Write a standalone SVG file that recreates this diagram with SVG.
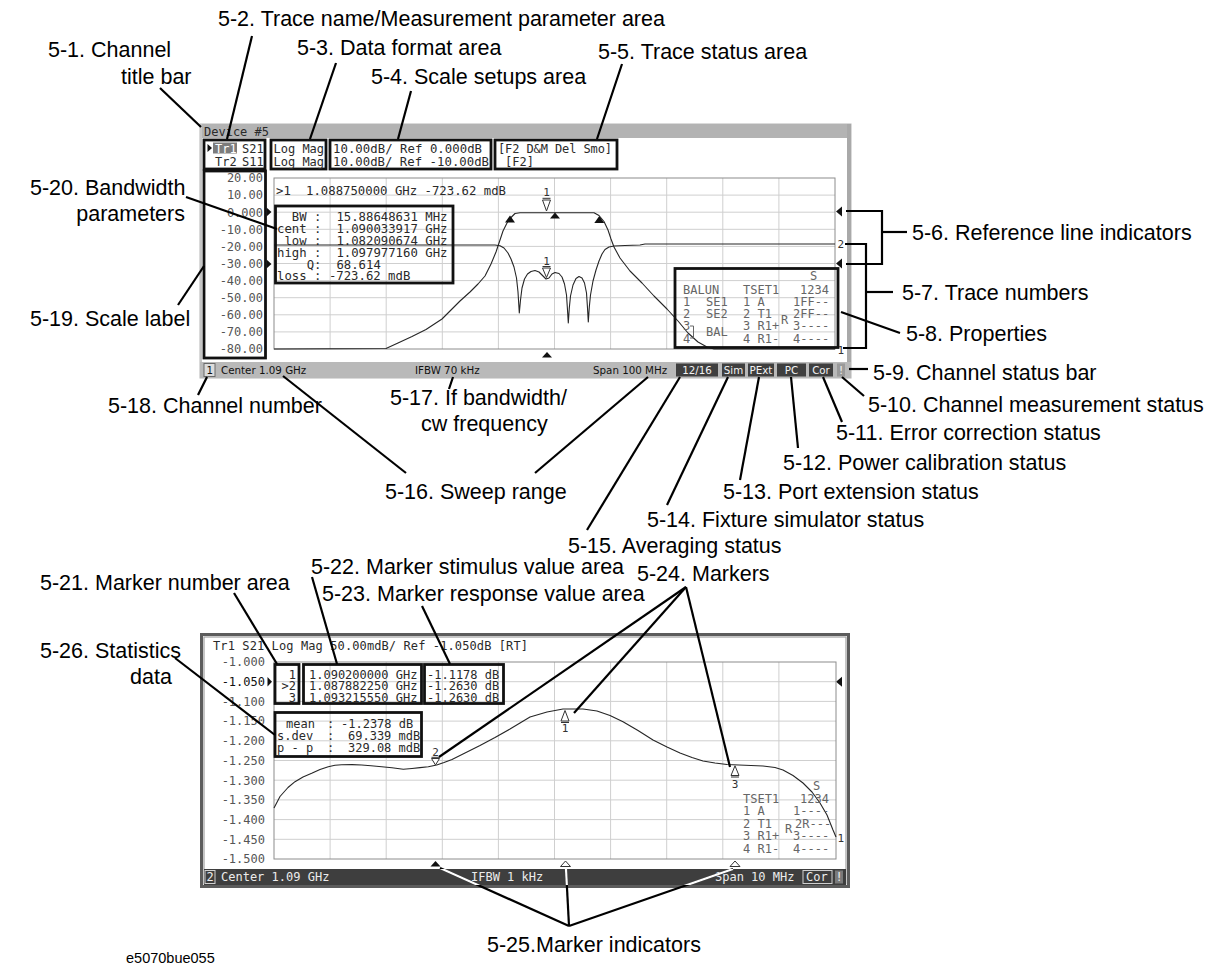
<svg xmlns="http://www.w3.org/2000/svg" width="1217" height="966" viewBox="0 0 1217 966">
<defs>
<style>
.lbl{font-family:"Liberation Sans",Arial,sans-serif;font-size:21.5px;fill:#000}
.m{font-family:"DejaVu Sans Mono","Liberation Mono",monospace;font-size:12.3px;fill:#2a2a2a}
.s{font-family:"DejaVu Sans Mono","Liberation Mono",monospace;font-size:12px;fill:#2a2a2a}
.k{font-family:"DejaVu Sans Mono","Liberation Mono",monospace;font-size:11px;fill:#333}
.gy{fill:#555}
.pr{fill:#666}
.lt{fill:#ececec}
.sb{font-family:"DejaVu Sans",Verdana,sans-serif;font-size:10.3px;fill:#111}
.sw{font-family:"DejaVu Sans",Verdana,sans-serif;font-size:10.3px;fill:#f2f2f2}
.bx{fill:none;stroke:#111;stroke-width:2.8}
.grid{fill:none;stroke:#cfcfcf;stroke-width:1}
.gb{fill:none;stroke:#8c8c8c;stroke-width:1}
.tr{fill:none;stroke:#262626;stroke-width:1.1;stroke-linejoin:round}
.ld{fill:none;stroke:#000;stroke-width:2.2}
.ldw{fill:none;stroke:#fff;stroke-width:2.2}
.mk{fill:#fff;stroke:#333;stroke-width:1}
.fm{fill:#111}
</style>
<clipPath id="sbclip"><rect x="204" y="869" width="642" height="16"/></clipPath>
</defs>

<!-- ===== Upper screen ===== -->
<g id="upper-screen">
<rect x="200" y="124" width="651" height="254" fill="#fff" stroke="#b5b5b5" stroke-width="1"/>
<g id="channel-title-bar">
<rect x="200" y="124" width="651" height="14" fill="#b3b3b3"/>
<text class="s" x="204" y="136">Device #5</text>
</g>
<rect x="847" y="124" width="4" height="254" fill="#a9a9a9"/>
<rect x="200" y="124" width="2" height="254" fill="#c6c6c6"/>

<g id="trace-name-area">
<rect class="bx" x="204" y="140" width="61" height="29"/>
<polygon class="fm" points="207.5,144 212,148 207.5,152"/>
<rect x="213" y="142.5" width="24" height="11" fill="#7c7c7c"/>
<text class="s" x="215" y="152.5" style="fill:#fff">Tr1</text>
<text class="s" x="242" y="152.5">S21</text>
<text class="s" x="215" y="165.5">Tr2</text>
<text class="s" x="242" y="165.5">S11</text>
</g>
<g id="data-format-area">
<rect class="bx" x="271" y="140" width="55" height="29"/>
<text class="s" x="273.5" y="152.5">Log Mag</text>
<text class="s" x="273.5" y="165.5">Log Mag</text>
</g>
<g id="scale-setups-area">
<rect class="bx" x="330" y="140" width="161" height="29"/>
<text class="m" x="333" y="152.5" textLength="149">10.00dB/ Ref 0.000dB</text>
<text class="m" x="333" y="165.5" textLength="156">10.00dB/ Ref -10.00dB</text>
</g>
<g id="trace-status-area">
<rect class="bx" x="495" y="140" width="122" height="29"/>
<text class="s" x="498" y="152.5" textLength="114">[F2 D&amp;M Del Smo]</text>
<text class="s" x="505" y="165.5">[F2]</text>
</g>

<g id="scale-label">
<rect class="bx" x="204" y="171" width="61.5" height="187"/>
<g class="s gy" text-anchor="end">
<text x="263" y="182.3">20.00</text>
<text x="263" y="199.4">10.00</text>
<text x="263" y="216.5">0.000</text>
<text x="263" y="233.6">-10.00</text>
<text x="263" y="250.7">-20.00</text>
<text x="263" y="267.8">-30.00</text>
<text x="263" y="284.9">-40.00</text>
<text x="263" y="302">-50.00</text>
<text x="263" y="319.1">-60.00</text>
<text x="263" y="336.2">-70.00</text>
<text x="263" y="353.3">-80.00</text>
</g>
</g>

<g id="upper-graph">
<path class="grid" d="M330.1 178V349M386.2 178V349M442.3 178V349M498.4 178V349M554.5 178V349M610.6 178V349M666.7 178V349M722.8 178V349M778.9 178V349M274 195.1H835M274 212.2H835M274 229.3H835M274 246.4H835M274 263.5H835M274 280.6H835M274 297.7H835M274 314.8H835M274 331.9H835"/>
<rect class="gb" x="274" y="178" width="561" height="171"/>
<text class="m" x="276" y="194.5">&gt;1</text>
<text class="m" x="306" y="194.5" textLength="200">1.088750000 GHz -723.62 mdB</text>
<path class="tr" d="M274,245 L495,245 L500,245.8 L504,248 L508,253 L511,259 L514,267 L516.5,278 L518,292 L519.3,313 L520.5,300 L522,288 L524.5,279 L527.5,274 L531,271.5 L535,270.5 L539,272 L543,276 L546,279 L549,278 L552,274 L555,272.5 L559,273.5 L562,277 L564.5,284 L566.5,295 L567.5,310 L568.3,323 L569.3,308 L570.5,296 L573,285 L576,278.5 L579,276.5 L582,278 L584.5,283 L586.5,293 L587.5,308 L588.3,322 L589.3,307 L590.5,295 L593,281 L596,270 L599,261 L602,254 L605,249.5 L609,247 L614,246 L625,245.5 L640,245 L645,244 L835,244"/>
<path class="tr" d="M274,349 L386,348.5 L398,343 L412,336.5 L426,329.5 L442,319 L460,301 L470,292 L478,284 L485,276 L491,264 L496,252 L500,240 L503,231 L507,223 L511,217.5 L515,213.5 L520,212.7 L594,212.7 L599,215.5 L604,221.5 L608,230 L611,239 L614,247 L620,258 L630,271 L642,283 L654,296 L667,309 L678,321 L688,333 L698,342 L707,347 L714,349 L835,349"/>
<polygon class="fm" points="510,215.5 505,222.5 515,222.5"/>
<polygon class="fm" points="555,212.5 550,218.5 560,218.5"/>
<polygon class="fm" points="599.3,216 594.3,223 604.3,223"/>
<text class="k" x="546.5" y="196" text-anchor="middle">1</text>
<line x1="542.5" y1="198.3" x2="550.5" y2="198.3" stroke="#333" stroke-width="1"/>
<polygon class="mk" points="542.5,200 550.5,200 546.5,211"/>
<text class="k" x="546.5" y="264.5" text-anchor="middle">1</text>
<line x1="542.5" y1="266.5" x2="550.5" y2="266.5" stroke="#333" stroke-width="1"/>
<polygon class="mk" points="542.5,268 550.5,268 546.5,277.5"/>
<polygon class="fm" points="547,352 542,357.5 552,357.5"/>
</g>

<g id="bandwidth-parameters">
<rect class="bx" x="275.5" y="206" width="177.5" height="77"/>
<g class="m">
<text x="291.8" y="221">BW</text><text x="314.1" y="221">:</text><text x="336.4" y="221">15.88648631 MHz</text>
<text x="277" y="233">cent</text><text x="314.1" y="233">:</text><text x="336.4" y="233">1.090033917 GHz</text>
<text x="284.4" y="244.8">low</text><text x="314.1" y="244.8">:</text><text x="336.4" y="244.8">1.082090674 GHz</text>
<text x="277" y="256.7">high</text><text x="314.1" y="256.7">:</text><text x="336.4" y="256.7">1.097977160 GHz</text>
<text x="306.7" y="268.5">Q</text><text x="314.1" y="268.5">:</text><text x="336.4" y="268.5">68.614</text>
<text x="277" y="280.4">loss</text><text x="314.1" y="280.4">:</text><text x="328.9" y="280.4">-723.62 mdB</text>
</g>
</g>

<g id="reference-line-indicators">
<polygon class="fm" points="266.5,207.5 271.5,212 266.5,216.5"/>
<polygon class="fm" points="266.5,259.5 271.5,264 266.5,268.5"/>
<polygon class="fm" points="836,211.5 842,206.5 842,216.5"/>
<polygon class="fm" points="836,263.5 842,258.5 842,268.5"/>
</g>
<g id="trace-numbers">
<text class="k" x="837.5" y="248">2</text>
<text class="k" x="837.5" y="354">1</text>
</g>

<g id="properties">
<rect class="bx" x="675" y="268.5" width="163" height="79"/>
<g class="s pr">
<text x="810" y="279.5">S</text>
<text x="683" y="293.5">BALUN</text><text x="743" y="293.5">TSET1</text><text x="800" y="293.5">1234</text>
<text x="683" y="305.8">1</text><text x="706" y="305.8">SE1</text><text x="743" y="305.8">1 A</text><text x="793" y="305.8">1FF--</text>
<text x="683" y="318.1">2</text><text x="706" y="318.1">SE2</text><text x="743" y="318.1">2 T1</text><text x="793" y="318.1">2FF--</text>
<text x="781" y="324">R</text>
<text x="683" y="329.5">3</text><text x="706" y="336">BAL</text><text x="743" y="330.4">3 R1+</text><text x="793" y="330.4">3----</text>
<text x="683" y="342.7">4</text><text x="743" y="342.7">4 R1-</text><text x="793" y="342.7">4----</text>
</g>
<path d="M690,326 H693.5 V338 H690" fill="none" stroke="#666" stroke-width="1"/>
</g>

<g id="channel-status-bar">
<rect x="200" y="362" width="651" height="16" fill="#b9b9b9"/>
<rect x="204" y="363.5" width="11" height="13" fill="#dcdcdc" stroke="#6a6a6a" stroke-width="1"/>
<text class="sb" x="206.5" y="374">1</text>
<text class="sb" x="221" y="374">Center 1.09 GHz</text>
<text class="sb" x="415" y="374">IFBW 70 kHz</text>
<text class="sb" x="593" y="374">Span 100 MHz</text>
<g id="averaging-status"><rect x="676" y="363.5" width="42" height="13" fill="#3f3f3f"/><text class="sw" x="697" y="374" text-anchor="middle">12/16</text></g>
<g id="fixture-simulator-status"><rect x="722" y="363.5" width="23" height="13" fill="#3f3f3f"/><text class="sw" x="733.5" y="374" text-anchor="middle">Sim</text></g>
<g id="port-extension-status"><rect x="748" y="363.5" width="26" height="13" fill="#3f3f3f"/><text class="sw" x="761" y="374" text-anchor="middle">PExt</text></g>
<g id="power-calibration-status"><rect x="777" y="363.5" width="29" height="13" fill="#3f3f3f"/><text class="sw" x="791.5" y="374" text-anchor="middle">PC</text></g>
<g id="error-correction-status"><rect x="809" y="363.5" width="24" height="13" fill="#3f3f3f"/><text class="sw" x="821" y="374" text-anchor="middle">Cor</text></g>
<g id="channel-measurement-status"><rect x="837" y="363.5" width="8" height="13" fill="#9a9a9a"/><text class="sw" x="841" y="374" text-anchor="middle">!</text></g>
</g>
</g>

<!-- ===== Lower screen ===== -->
<g id="lower-screen">
<rect x="201.5" y="634.5" width="647" height="252" fill="#fff" stroke="#5c5c5c" stroke-width="3"/>
<rect x="204" y="637" width="642" height="247" fill="none" stroke="#a0a0a0" stroke-width="1.2"/>
<text class="s" x="213" y="649.5" textLength="315">Tr1 S21 Log Mag 50.00mdB/ Ref -1.050dB [RT]</text>
<g class="s gy" text-anchor="end">
<text x="265" y="666.3">-1.000</text>
<text x="265" y="686" style="fill:#111">-1.050</text>
<text x="265" y="705.7">-1.100</text>
<text x="265" y="725.4">-1.150</text>
<text x="265" y="745.1">-1.200</text>
<text x="265" y="764.8">-1.250</text>
<text x="265" y="784.5">-1.300</text>
<text x="265" y="804.2">-1.350</text>
<text x="265" y="823.9">-1.400</text>
<text x="265" y="843.6">-1.450</text>
<text x="265" y="863.3">-1.500</text>
</g>
<polygon class="fm" points="267.5,677 272,681.7 267.5,686.4"/>
<polygon class="fm" points="836,681.7 842,676.7 842,686.7"/>
<path class="grid" d="M330.1 662V859M386.2 662V859M442.3 662V859M498.4 662V859M554.5 662V859M610.6 662V859M666.7 662V859M722.8 662V859M778.9 662V859M274 681.7H836M274 701.4H836M274 721.1H836M274 740.8H836M274 760.5H836M274 780.2H836M274 799.9H836M274 819.6H836M274 839.3H836"/>
<rect class="gb" x="274" y="662" width="562" height="197"/>
<path class="tr" d="M274,808 L280,796.5 L288,787.5 L295,781.7 L303,777 L311.7,773.3 L320,769.5 L328.3,766.7 L335,765.3 L341.7,764.7 L352,764.6 L361.7,765 L371,765.8 L381.7,766.7 L392,767.8 L403.3,769.3 L412,768.5 L420,767.6 L428.3,766.7 L436.7,765 L444,762.5 L452,759.5 L465,753 L480,745.5 L495,737.5 L510,729 L520,723 L530,717 L547,712 L563,709 L583,709 L597,711 L610,715.5 L623,721.7 L638,730.5 L653,740 L667,747 L680,753 L692,757.5 L703,761 L715,763 L727,764.5 L745,765.2 L763,766 L775,767.5 L783,770 L793,775.5 L803,783 L812,792 L820,803 L827,815 L833,830 L836,837"/>
<g id="markers">
<text class="k" x="435.5" y="755.5" text-anchor="middle">2</text>
<line x1="431.5" y1="757.3" x2="439.5" y2="757.3" stroke="#333" stroke-width="1"/>
<polygon class="mk" points="431.5,758.5 439.5,758.5 435.5,765"/>
<polygon class="mk" points="561,721 569,721 565,710.5"/>
<line x1="561" y1="722.5" x2="569" y2="722.5" stroke="#333" stroke-width="1"/>
<text class="k" x="565" y="731.5" text-anchor="middle">1</text>
<polygon class="mk" points="731,775.5 739,775.5 735,765.8"/>
<line x1="731" y1="777" x2="739" y2="777" stroke="#333" stroke-width="1"/>
<text class="k" x="735" y="787.5" text-anchor="middle">3</text>
</g>
<g id="marker-indicators">
<polygon class="fm" points="435.5,861 430.5,866.5 440.5,866.5"/>
<polygon class="mk" points="565.5,861 560.5,866.5 570.5,866.5"/>
<polygon class="mk" points="735,861 730,866.5 740,866.5"/>
</g>
<g id="marker-number-area">
<rect class="bx" x="275" y="664.5" width="24" height="39"/>
<g class="s" text-anchor="end"><text x="296" y="678.5">1</text><text x="296" y="690">&gt;2</text><text x="296" y="701.5">3</text></g>
</g>
<g id="marker-stimulus-area">
<rect class="bx" x="303.5" y="664.5" width="118" height="39"/>
<g class="s"><text x="309" y="678.5">1.090200000 GHz</text><text x="309" y="690">1.087882250 GHz</text><text x="309" y="701.5">1.093215550 GHz</text></g>
</g>
<g id="marker-response-area">
<rect class="bx" x="424.5" y="664.5" width="79" height="39"/>
<g class="s"><text x="427" y="678.5">-1.1178 dB</text><text x="427" y="690">-1.2630 dB</text><text x="427" y="701.5">-1.2630 dB</text></g>
</g>
<g id="statistics-data">
<rect class="bx" x="275" y="712.5" width="146.5" height="44"/>
<g class="s">
<text x="286" y="728">mean</text><text x="327" y="728">:</text><text x="341" y="728">-1.2378 dB</text>
<text x="277" y="740">s.dev</text><text x="327" y="740">:</text><text x="348" y="740">69.339 mdB</text>
<text x="277" y="752">p - p</text><text x="327" y="752">:</text><text x="348" y="752">329.08 mdB</text>
</g>
</g>
<g id="lower-properties" class="s pr">
<text x="813" y="790.3">S</text>
<text x="743" y="802.6">TSET1</text><text x="800" y="802.6">1234</text>
<text x="743" y="815.1">1 A</text><text x="793" y="815.1">1----</text>
<text x="743" y="827.6">2 T1</text><text x="795" y="827.6">2R---</text>
<text x="785" y="833">R</text>
<text x="743" y="840.1">3 R1+</text><text x="793" y="840.1">3----</text>
<text x="743" y="852.6">4 R1-</text><text x="793" y="852.6">4----</text>
</g>
<text class="k" x="837.5" y="842">1</text>
<g id="lower-status-bar">
<rect x="204" y="869" width="642" height="16" fill="#3e3e3e"/>
<rect x="205" y="870.5" width="10" height="13" fill="#3e3e3e" stroke="#d0d0d0" stroke-width="1"/>
<text class="s lt" x="206.5" y="881">2</text>
<text class="s lt" x="221" y="881">Center 1.09 GHz</text>
<text class="s lt" x="471" y="881">IFBW 1 kHz</text>
<text class="s lt" x="715" y="881">Span 10 MHz</text>
<rect x="803" y="870.5" width="29" height="13" fill="#3e3e3e" stroke="#cfcfcf" stroke-width="1"/>
<text class="s lt" x="806" y="881">Cor</text>
<rect x="835" y="870.5" width="8" height="13" fill="#7a7a7a"/>
<text class="s lt" x="835.5" y="881">!</text>
</g>
</g>

<!-- ===== Connectors ===== -->
<g id="connectors">
<line class="ld" x1="160" y1="88" x2="201" y2="127"/>
<line class="ld" x1="252" y1="36" x2="227" y2="139"/>
<line class="ld" x1="336" y1="63" x2="310" y2="139"/>
<line class="ld" x1="411" y1="91" x2="398" y2="139"/>
<line class="ld" x1="622" y1="64" x2="597" y2="139"/>
<line class="ld" x1="186" y1="197" x2="277" y2="229"/>
<line class="ld" x1="178" y1="305" x2="204" y2="266"/>
<line class="ld" x1="198" y1="395" x2="207" y2="377"/>
<line class="ld" x1="283" y1="376" x2="406" y2="473"/>
<line class="ld" x1="648" y1="377" x2="535" y2="473"/>
<line class="ld" x1="453" y1="377" x2="449" y2="389"/>
<line class="ld" x1="680" y1="377" x2="587" y2="530"/>
<line class="ld" x1="728" y1="377" x2="667" y2="505"/>
<line class="ld" x1="759" y1="377" x2="740" y2="480"/>
<line class="ld" x1="791" y1="377" x2="798" y2="448"/>
<line class="ld" x1="823" y1="377" x2="842" y2="422"/>
<line class="ld" x1="842" y1="377" x2="864" y2="396"/>
<line class="ld" x1="849" y1="369" x2="868" y2="369"/>
<line class="ld" x1="841" y1="312" x2="900" y2="333"/>
<polyline class="ld" points="846,211 882,211 882,264 846,264"/>
<line class="ld" x1="882" y1="232" x2="907" y2="232"/>
<polyline class="ld" points="845,244 866,244 866,348 843,348"/>
<line class="ld" x1="866" y1="292" x2="893" y2="292"/>
<line class="ld" x1="234" y1="593" x2="277" y2="664"/>
<line class="ld" x1="312" y1="577" x2="337" y2="664"/>
<line class="ld" x1="422" y1="606" x2="450" y2="664"/>
<line class="ld" x1="686" y1="587" x2="439" y2="757"/>
<line class="ld" x1="686" y1="587" x2="574" y2="713"/>
<line class="ld" x1="686" y1="587" x2="730" y2="767"/>
<line class="ld" x1="175" y1="658" x2="275" y2="735"/>
<line class="ld" x1="569" y1="926" x2="440" y2="868"/>
<line class="ld" x1="569" y1="926" x2="566" y2="869"/>
<line class="ld" x1="569" y1="926" x2="733" y2="869"/>
<g clip-path="url(#sbclip)">
<line class="ldw" x1="569" y1="926" x2="440" y2="868"/>
<line class="ldw" x1="569" y1="926" x2="566" y2="869"/>
<line class="ldw" x1="569" y1="926" x2="733" y2="869"/>
</g>
</g>

<!-- ===== Labels ===== -->
<g id="label-5-1"><text class="lbl" x="48" y="57">5-1. Channel</text><text class="lbl" x="121" y="84">title bar</text></g>
<g id="label-5-2"><text class="lbl" x="218" y="26">5-2. Trace name/Measurement parameter area</text></g>
<g id="label-5-3"><text class="lbl" x="297" y="55">5-3. Data format area</text></g>
<g id="label-5-4"><text class="lbl" x="371" y="84">5-4. Scale setups area</text></g>
<g id="label-5-5"><text class="lbl" x="598" y="59">5-5. Trace status area</text></g>
<g id="label-5-6"><text class="lbl" x="912" y="240">5-6. Reference line indicators</text></g>
<g id="label-5-7"><text class="lbl" x="902" y="300">5-7. Trace numbers</text></g>
<g id="label-5-8"><text class="lbl" x="906" y="341">5-8. Properties</text></g>
<g id="label-5-9"><text class="lbl" x="873" y="380">5-9. Channel status bar</text></g>
<g id="label-5-10"><text class="lbl" x="868" y="412">5-10. Channel measurement status</text></g>
<g id="label-5-11"><text class="lbl" x="836" y="440">5-11. Error correction status</text></g>
<g id="label-5-12"><text class="lbl" x="783" y="470">5-12. Power calibration status</text></g>
<g id="label-5-13"><text class="lbl" x="723" y="499">5-13. Port extension status</text></g>
<g id="label-5-14"><text class="lbl" x="647" y="527">5-14. Fixture simulator status</text></g>
<g id="label-5-15"><text class="lbl" x="568" y="553">5-15. Averaging status</text></g>
<g id="label-5-16"><text class="lbl" x="385" y="499">5-16. Sweep range</text></g>
<g id="label-5-17"><text class="lbl" x="390" y="405">5-17. If bandwidth/</text><text class="lbl" x="421" y="431">cw frequency</text></g>
<g id="label-5-18"><text class="lbl" x="108" y="413">5-18. Channel number</text></g>
<g id="label-5-19"><text class="lbl" x="30" y="326">5-19. Scale label</text></g>
<g id="label-5-20"><text class="lbl" x="30" y="195">5-20. Bandwidth</text><text class="lbl" x="185" y="221" text-anchor="end">parameters</text></g>
<g id="label-5-21"><text class="lbl" x="40" y="590">5-21. Marker number area</text></g>
<g id="label-5-22"><text class="lbl" x="311" y="574">5-22. Marker stimulus value area</text></g>
<g id="label-5-23"><text class="lbl" x="322" y="601">5-23. Marker response value area</text></g>
<g id="label-5-24"><text class="lbl" x="637" y="581">5-24. Markers</text></g>
<g id="label-5-25"><text class="lbl" x="487" y="952">5-25.Marker indicators</text></g>
<g id="label-5-26"><text class="lbl" x="40" y="658">5-26. Statistics</text><text class="lbl" x="130" y="684">data</text></g>
<text x="126" y="963" style="font-family:'Liberation Sans',Arial,sans-serif;font-size:14.5px;fill:#000">e5070bue055</text>
</svg>
